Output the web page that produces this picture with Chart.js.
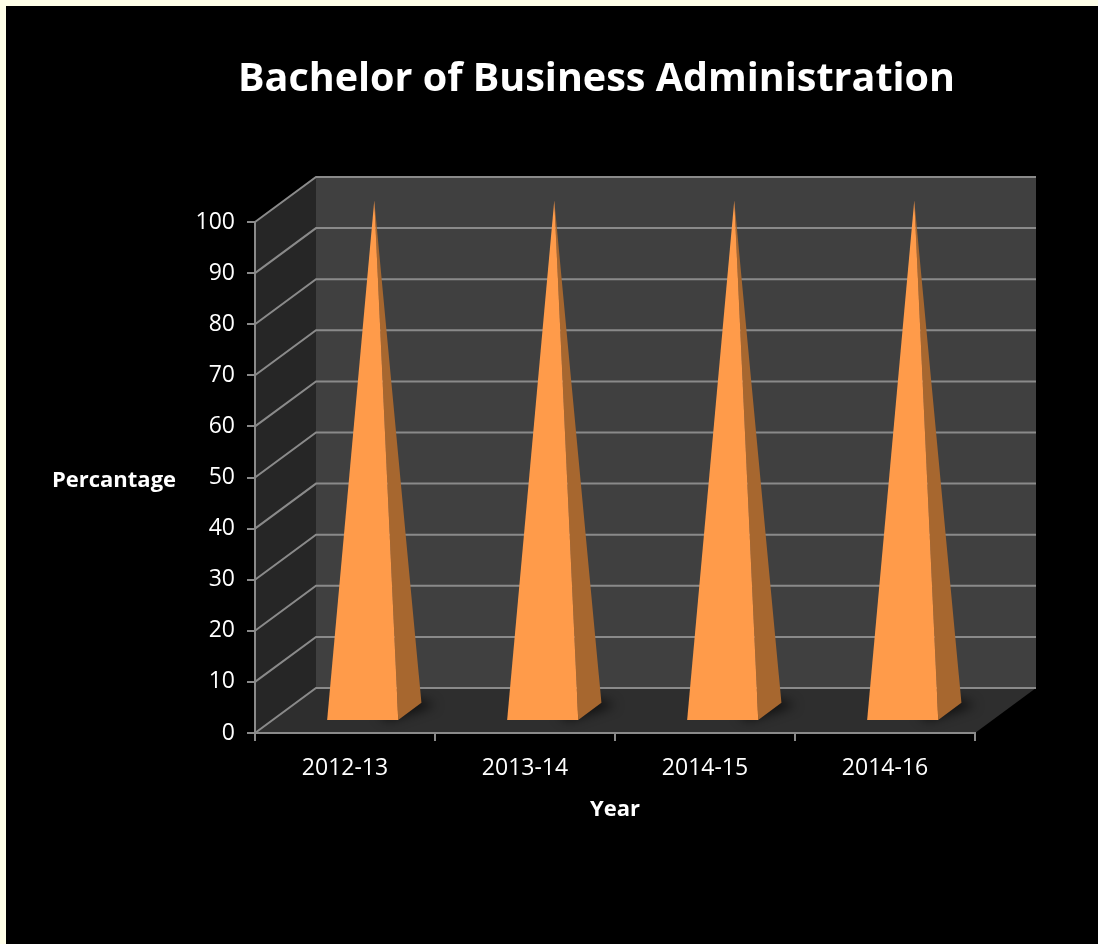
<!DOCTYPE html>
<html>
<head>
<meta charset="utf-8">
<title>Bachelor of Business Administration</title>
<script src="https://cdn.jsdelivr.net/npm/chart.js@4/dist/chart.umd.min.js"></script>
<style>
  html, body { margin: 0; padding: 0; background: #ffffe8; }
  #wrap { position: absolute; left: 6px; top: 6px; width: 1092px; height: 938px; background: #000; }
</style>
</head>
<body>
<div id="wrap"><canvas id="bbaChart"></canvas></div>
<script>
// Pass percentage per academic year
const years = ['2012-13', '2013-14', '2014-15', '2014-16'];
const percentages = [100, 100, 100, 100];

const FONT = "'Open Sans', sans-serif";
const GRID = '#8a8a8a';

// 3D box: how far the back wall sits behind the front plane
const DEPTH_X = 61;
const DEPTH_Y = -45;
// pyramid base runs from this depth fraction to the next
const BASE_FRONT = 0.29;
const BASE_BACK = 0.67;

function fillPoly(ctx, pts, color) {
  ctx.beginPath();
  ctx.moveTo(pts[0][0], pts[0][1]);
  for (let i = 1; i < pts.length; i++) ctx.lineTo(pts[i][0], pts[i][1]);
  ctx.closePath();
  ctx.fillStyle = color;
  ctx.fill();
}

// -------------------------------------------------------------
// Walls, floor and back grid lines, drawn under the axes
// -------------------------------------------------------------
const box3d = {
  id: 'box3d',
  beforeDraw(chart) {
    const { ctx, chartArea: a, scales: { y } } = chart;
    const y0 = y.getPixelForValue(0);
    const yTop = y.getPixelForValue(y.max);
    ctx.save();
    fillPoly(ctx, [[a.left, y0], [a.right, y0], [a.right + DEPTH_X, y0 + DEPTH_Y], [a.left + DEPTH_X, y0 + DEPTH_Y]], '#2e2e2e');
    fillPoly(ctx, [[a.left, y0], [a.left + DEPTH_X, y0 + DEPTH_Y], [a.left + DEPTH_X, yTop + DEPTH_Y], [a.left, yTop]], '#262626');
    fillPoly(ctx, [[a.left + DEPTH_X, yTop + DEPTH_Y], [a.right + DEPTH_X, yTop + DEPTH_Y], [a.right + DEPTH_X, y0 + DEPTH_Y], [a.left + DEPTH_X, y0 + DEPTH_Y]], '#404040');

    ctx.strokeStyle = GRID;
    ctx.lineWidth = 2;
    y.ticks.forEach((t) => {
      const py = y.getPixelForValue(t.value);
      ctx.beginPath();
      ctx.moveTo(a.left, py);
      ctx.lineTo(a.left + DEPTH_X, py + DEPTH_Y);
      ctx.lineTo(a.right + DEPTH_X, py + DEPTH_Y);
      ctx.stroke();
    });
    ctx.restore();
  },

  // pyramids built on the (hidden) bar elements
  afterDatasetsDraw(chart) {
    const { ctx, scales: { y } } = chart;
    const meta = chart.getDatasetMeta(0);
    const y0 = y.getPixelForValue(0);
    const mid = (BASE_FRONT + BASE_BACK) / 2;
    ctx.save();
    meta.data.forEach((bar, i) => {
      const half = bar.width / 2;
      const top = y.getPixelForValue(percentages[i]);
      const fl = [bar.x - half + BASE_FRONT * DEPTH_X, y0 + BASE_FRONT * DEPTH_Y];
      const fr = [bar.x + half + BASE_FRONT * DEPTH_X, y0 + BASE_FRONT * DEPTH_Y];
      const br = [bar.x + half + BASE_BACK * DEPTH_X, y0 + BASE_BACK * DEPTH_Y];
      const apex = [bar.x + mid * DEPTH_X, top + mid * DEPTH_Y];

      // soft shadow on the floor
      ctx.save();
      ctx.filter = 'blur(6px)';
      fillPoly(ctx, [[fr[0] - 10, fr[1]], [br[0] + 14, br[1] + 2], [br[0] - 6, br[1] - 4], [fr[0] - 20, fr[1] - 6]], 'rgba(0,0,0,0.75)');
      ctx.restore();

      fillPoly(ctx, [fr, br, apex], '#a7672f');
      fillPoly(ctx, [fl, fr, apex], '#ff9b4a');
    });
    ctx.restore();
  },

  // horizontal y-axis caption
  afterDraw(chart) {
    const { ctx, scales: { y } } = chart;
    ctx.save();
    ctx.font = 'bold 22px ' + FONT;
    ctx.fillStyle = '#ffffff';
    ctx.textAlign = 'center';
    ctx.textBaseline = 'middle';
    ctx.fillText('Percantage', 108, y.getPixelForValue(50) + 3);
    ctx.restore();
  }
};

new Chart(document.getElementById('bbaChart'), {
  type: 'bar',
  data: {
    labels: years,
    datasets: [{
      label: 'Percentage',
      data: percentages,
      backgroundColor: 'rgba(0,0,0,0)',
      borderWidth: 0,
      barPercentage: 0.395,
      categoryPercentage: 1
    }]
  },
  options: {
    responsive: true,
    maintainAspectRatio: false,
    animation: false,
    // left padding shifts the title box so the heading sits over the plot
    layout: { padding: { left: 89, right: 0, top: 0, bottom: 0 } },
    plugins: {
      legend: { display: false },
      tooltip: { enabled: false },
      title: {
        display: true,
        text: 'Bachelor of Business Administration',
        color: '#ffffff',
        font: { family: FONT, size: 39.5, weight: 'bold', lineHeight: 1.2 },
        padding: { top: 50, bottom: 118.6 }
      }
    },
    scales: {
      x: {
        afterFit: (s) => { s.height = 211; },
        grid: { drawOnChartArea: false, drawTicks: true, tickLength: 8, color: GRID, lineWidth: 2, offset: true },
        border: { color: GRID, width: 2 },
        ticks: { color: '#ffffff', padding: 14, font: { family: FONT, size: 23 } },
        title: {
          display: true,
          text: 'Year',
          color: '#ffffff',
          font: { family: FONT, size: 22, weight: 'bold', lineHeight: 1.2 },
          padding: { top: 0, bottom: 121 }
        }
      },
      y: {
        min: 0,
        max: 100,
        afterFit: (s) => { s.width = 160; },
        grid: { drawOnChartArea: false, drawTicks: true, tickLength: 8, color: GRID, lineWidth: 2 },
        border: { color: GRID, width: 2 },
        ticks: { stepSize: 10, color: '#ffffff', padding: 12, font: { family: FONT, size: 23 } }
      },
      // empty right-hand axis: reserves room for the box depth
      depth: {
        type: 'linear',
        position: 'right',
        afterFit: (s) => { s.width = 123; },
        grid: { display: false },
        border: { display: false },
        ticks: { display: false }
      }
    }
  },
  plugins: [box3d]
});
</script>
</body>
</html>
